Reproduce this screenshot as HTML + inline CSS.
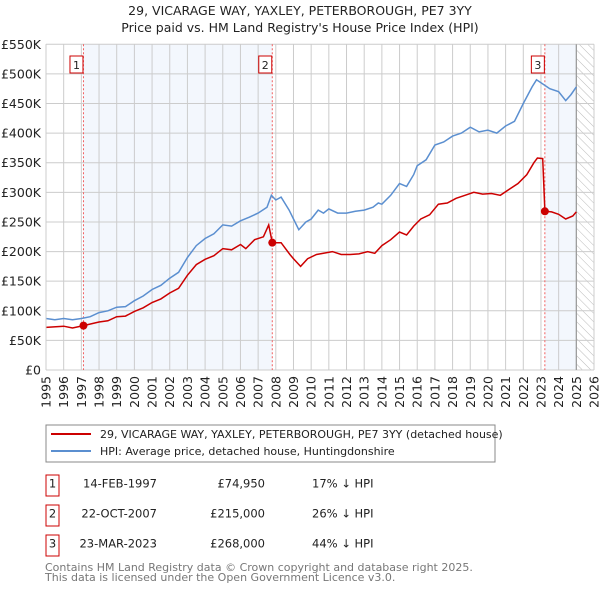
<!DOCTYPE html>
<html><head><meta charset="utf-8"><style>
body{margin:0;background:#fff;font-family:"Liberation Sans","DejaVu Sans",sans-serif;}
svg text{font-family:"DejaVu Sans","Liberation Sans",sans-serif;}
</style></head><body>
<svg id="chart" width="600" height="590" xmlns="http://www.w3.org/2000/svg">
<defs><pattern id="hatch" width="6" height="6" patternUnits="userSpaceOnUse" patternTransform="rotate(-45)"><line x1="0" y1="0" x2="0" y2="6" stroke="#bbb" stroke-width="1"/></pattern></defs>
<text x="300" y="15" text-anchor="middle" font-size="12.5" fill="#222">29, VICARAGE WAY, YAXLEY, PETERBOROUGH, PE7 3YY</text>
<text x="300" y="32" text-anchor="middle" font-size="12.5" fill="#222">Price paid vs. HM Land Registry's House Price Index (HPI)</text>
<g id="plot"></g>
<g>
<rect x="46" y="425" width="449" height="37" fill="#fff" stroke="#888"/>
<line x1="51" y1="434" x2="91" y2="434" stroke="#cc0000" stroke-width="2"/>
<text x="100" y="438" font-size="11" fill="#222">29, VICARAGE WAY, YAXLEY, PETERBOROUGH, PE7 3YY (detached house)</text>
<line x1="51" y1="451" x2="91" y2="451" stroke="#5b8fd0" stroke-width="2"/>
<text x="100" y="455" font-size="11" fill="#222">HPI: Average price, detached house, Huntingdonshire</text>
</g>
<g font-size="11.5" fill="#222">
<rect x="46" y="475" width="13" height="21" fill="#fff" stroke="#cc0000"/><text x="52.5" y="487.5" text-anchor="middle">1</text>
<text x="157" y="487.5" text-anchor="end">14-FEB-1997</text><text x="265" y="487.5" text-anchor="end">£74,950</text><text x="312" y="487.5">17% ↓ HPI</text>
<rect x="46" y="505" width="13" height="21" fill="#fff" stroke="#cc0000"/><text x="52.5" y="517.5" text-anchor="middle">2</text>
<text x="157" y="517.5" text-anchor="end">22-OCT-2007</text><text x="265" y="517.5" text-anchor="end">£215,000</text><text x="312" y="517.5">26% ↓ HPI</text>
<rect x="46" y="535" width="13" height="21" fill="#fff" stroke="#cc0000"/><text x="52.5" y="547.5" text-anchor="middle">3</text>
<text x="157" y="547.5" text-anchor="end">23-MAR-2023</text><text x="265" y="547.5" text-anchor="end">£268,000</text><text x="312" y="547.5">44% ↓ HPI</text>
</g>
<text x="45" y="571" font-size="11" fill="#777">Contains HM Land Registry data © Crown copyright and database right 2025.</text>
<text x="45" y="581" font-size="11" fill="#777">This data is licensed under the Open Government Licence v3.0.</text>
</svg>
<script>
const yTicks=[0,50,100,150,200,250,300,350,400,450,500,550];
const yLabels=["£0","£50K","£100K","£150K","£200K","£250K","£300K","£350K","£400K","£450K","£500K","£550K"];
const xYears=[1995,1996,1997,1998,1999,2000,2001,2002,2003,2004,2005,2006,2007,2008,2009,2010,2011,2012,2013,2014,2015,2016,2017,2018,2019,2020,2021,2022,2023,2024,2025,2026];
const hpiT=[1995,1995.5,1996,1996.5,1997,1997.5,1998,1998.5,1999,1999.5,2000,2000.5,2001,2001.5,2002,2002.5,2003,2003.5,2004,2004.5,2005,2005.5,2006,2006.5,2007,2007.5,2007.75,2008,2008.3,2008.75,2009,2009.3,2009.7,2010,2010.4,2010.7,2011,2011.5,2012,2012.5,2013,2013.5,2013.8,2014,2014.5,2015,2015.4,2015.8,2016,2016.5,2017,2017.5,2018,2018.5,2019,2019.5,2020,2020.5,2021,2021.5,2022,2022.5,2022.75,2023,2023.5,2024,2024.4,2024.7,2025];
const hpiV=[87,85,87,85,87,90,97,100,106,107,117,125,136,143,155,165,190,210,222,230,245,243,252,258,265,275,295,287,292,270,255,237,250,255,270,265,272,265,265,268,270,275,282,280,295,315,310,330,345,355,380,385,395,400,410,402,405,400,412,420,450,478,490,485,475,470,455,465,478];
const ppT=[1995,1996,1996.5,1997.12,1998,1998.5,1999,1999.5,2000,2000.5,2001,2001.5,2002,2002.5,2003,2003.5,2004,2004.5,2005,2005.5,2006,2006.3,2006.8,2007.3,2007.6,2007.8,2008.3,2008.8,2009,2009.4,2009.8,2010.3,2010.7,2011.2,2011.7,2012.2,2012.7,2013.2,2013.6,2014,2014.5,2015,2015.4,2015.8,2016.2,2016.7,2017.2,2017.7,2018.2,2018.7,2019.2,2019.7,2020.2,2020.7,2021.2,2021.7,2022.2,2022.6,2022.8,2023.1,2023.22,2023.6,2024,2024.4,2024.8,2025];
const ppV=[72,74,71,75,81,83,90,91,99,105,114,120,130,138,160,178,187,193,205,203,212,205,220,225,245,215,215,195,188,175,188,195,197,200,195,195,196,200,197,210,220,233,228,243,255,262,280,282,290,295,300,297,298,295,305,315,330,350,358,357,268,267,263,255,260,267];
const saleT=[1997.12,2007.8,2023.22];
const saleV=[74.95,215,268];
const saleLbl=["1","2","3"];
const NS="http://www.w3.org/2000/svg";
const L=46,R=594,T=44.3,B=370;
const x=t=>L+(t-1995)/(2026-1995)*(R-L);
const y=v=>B-v/550*(B-T);
const g=document.getElementById('plot');
function mk(tag,a,parent){const e=document.createElementNS(NS,tag);for(const k in a)e.setAttribute(k,a[k]);(parent||g).appendChild(e);return e;}
let e;
e=mk('rect',{x:x(saleT[0]),y:T,width:x(saleT[1])-x(saleT[0]),height:B-T,fill:'#eef3fc',opacity:0.7});


e=mk('rect',{x:x(saleT[2]),y:T,width:x(2025)-x(saleT[2]),height:B-T,fill:'#eef3fc',opacity:0.7});


e=mk('rect',{x:x(2025),y:T,width:x(2026)-x(2025),height:B-T,fill:'url(#hatch)'});


xYears.forEach(t=>{e=mk('line',{x1:x(t),x2:x(t),y1:T,y2:B,stroke:'#ccc','stroke-width':1});


e=mk('text',{x:0,y:0,transform:`translate(${x(t)+4.5},${B+6}) rotate(-90)`,'text-anchor':'end','font-size':12.5,fill:'#222'});e.textContent=t;

});
yTicks.forEach((v,i)=>{e=mk('line',{x1:L,x2:R,y1:y(v),y2:y(v),stroke:'#ccc','stroke-width':1});


e=mk('text',{x:L-5,y:y(v)+4.5,'text-anchor':'end','font-size':12.5,fill:'#222'});e.textContent=yLabels[i];

});
e=mk('line',{x1:x(2025),x2:x(2025),y1:T,y2:B,stroke:'#999','stroke-width':1.2});


saleT.forEach((t,i)=>{e=mk('line',{x1:x(t),x2:x(t),y1:T,y2:B,stroke:'#f06060','stroke-width':1,'stroke-dasharray':'2,2'});

});
e=mk('path',{d:hpiT.map((t,i)=>(i?'L':'M')+x(t).toFixed(1)+','+y(hpiV[i]).toFixed(1)).join(''),fill:'none',stroke:'#5b8fd0','stroke-width':1.5});


e=mk('path',{d:ppT.map((t,i)=>(i?'L':'M')+x(t).toFixed(1)+','+y(ppV[i]).toFixed(1)).join(''),fill:'none',stroke:'#cc0000','stroke-width':1.5});


saleT.forEach((t,i)=>{e=mk('circle',{cx:x(t),cy:y(saleV[i]),r:4,fill:'#cc0000'});


e=mk('rect',{x:x(t)-13.5,y:56,width:13,height:17,fill:'#fff',stroke:'#cc0000'});


e=mk('text',{x:x(t)-7,y:69,'text-anchor':'middle','font-size':11,fill:'#222'});e.textContent=saleLbl[i];

});
e=mk('line',{x1:L,x2:L,y1:T,y2:B,stroke:'#ccc'});
</script>
</body></html>
